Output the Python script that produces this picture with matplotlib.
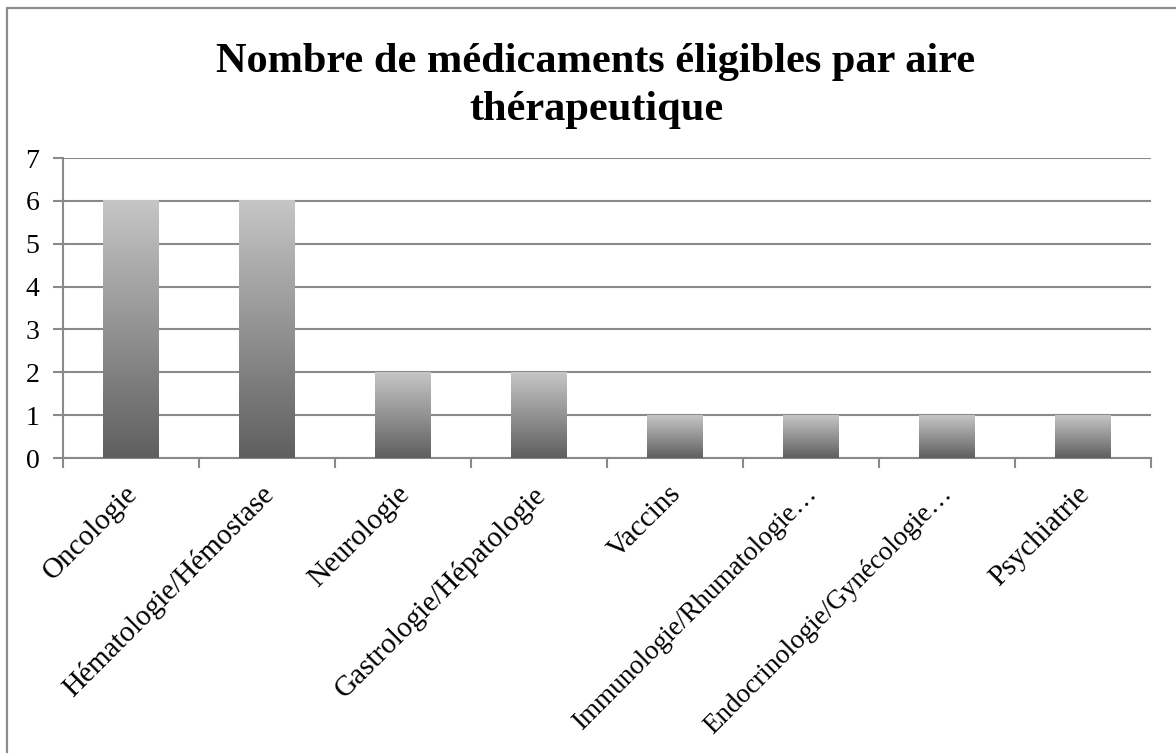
import matplotlib
matplotlib.use("Agg")
import matplotlib.pyplot as plt
import matplotlib.transforms as mtransforms
import numpy as np
from matplotlib.patches import Rectangle

categories = [
    "Oncologie",
    "Hématologie/Hémostase",
    "Neurologie",
    "Gastrologie/Hépatologie",
    "Vaccins",
    "Immunologie/Rhumatologie…",
    "Endocrinologie/Gynécologie…",
    "Psychiatrie",
]
values = [6, 6, 2, 2, 1, 1, 1, 1]
y_ticks = [0, 1, 2, 3, 4, 5, 6, 7]
title = "Nombre de médicaments éligibles par aire\nthérapeutique"

plt.rcParams["font.family"] = ["Liberation Serif", "DejaVu Serif"]

W, H = 1176, 753
fig = plt.figure(figsize=(W / 100, H / 100), dpi=100)
# plot area in pixels: x 63..1151, y 158..458
ax = fig.add_axes([63 / W, 1 - 458 / H, (1151 - 63) / W, (458 - 158) / H])

# outer chart border (only left and top visible in the reference)
fig.add_artist(Rectangle((7 / W, -0.05), 1.2, 1 - 8 / H + 0.05,
                         transform=fig.transFigure, fill=False,
                         edgecolor="#8c8c8c", linewidth=1.6))

grid_col = "#8a8a8a"
n = len(categories)
x = np.arange(n)
bar_w = 0.405

# vertical gradient: dark at the base, light at the top
grad = np.linspace(0, 1, 256).reshape(-1, 1)
cmap = matplotlib.colors.LinearSegmentedColormap.from_list("g", ["#5f5f5f", "#c6c6c6"])
for xi, v in zip(x, values):
    ax.imshow(grad, cmap=cmap, origin="lower", aspect="auto",
              extent=(xi - bar_w / 2, xi + bar_w / 2, 0, v), zorder=3)

ax.set_xlim(-0.5, n - 0.5)
ax.set_ylim(0, 7)
ax.set_yticks(y_ticks)
ax.set_yticklabels([str(t) for t in y_ticks], fontsize=20)
ax.yaxis.grid(True, color=grid_col, linewidth=1.5, zorder=1)
ax.set_axisbelow(True)

# x ticks at category boundaries, labels at centers
ax.set_xticks(np.arange(n + 1) - 0.5)
ax.set_xticklabels([])
ax.set_xticks(x, minor=True)
ax.set_xticklabels(categories, minor=True, rotation=45, ha="right",
                   rotation_mode="anchor", fontsize=21)
ax.tick_params(axis="x", which="minor", length=0, pad=13)
ax.tick_params(axis="x", which="major", length=7, width=1.5, color=grid_col)
ax.tick_params(axis="y", length=7, width=1.5, color=grid_col, pad=10)

# nudge the rotated labels a little down-left; truncated ones a bit smaller
shift = mtransforms.ScaledTranslation(-7 / 100, -5 / 100, fig.dpi_scale_trans)
for lab in ax.get_xticklabels(minor=True):
    lab.set_transform(lab.get_transform() + shift)
    if lab.get_text().endswith("…"):
        lab.set_fontsize(19.5)

for side in ["top", "right"]:
    ax.spines[side].set_visible(False)
for side in ["left", "bottom"]:
    ax.spines[side].set_color(grid_col)
    ax.spines[side].set_linewidth(1.5)

fig.text(596 / W, 1 - 86 / H, title, ha="center", va="center",
         fontsize=30.5, fontweight="bold", linespacing=1.35)

fig.savefig("out.png", dpi=100)
